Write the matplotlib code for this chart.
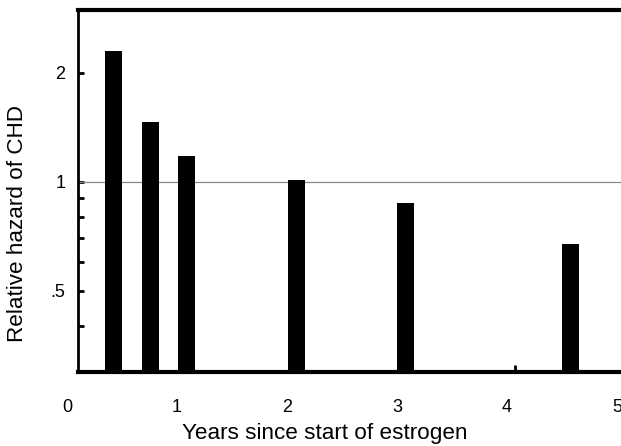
import matplotlib
matplotlib.use("Agg")
import matplotlib.pyplot as plt
import matplotlib.transforms as mtransforms
from matplotlib.ticker import FixedLocator, NullFormatter, NullLocator

plt.rcParams['font.family'] = ['Liberation Sans', 'DejaVu Sans']

# Data
years = [0.42, 0.76, 1.09, 2.085, 3.075, 4.575]
hazard = [2.29, 1.46, 1.18, 1.01, 0.873, 0.671]
x_ticks = [0, 1, 2, 3, 4, 5]
x_labels = ["0", "1", "2", "3", "4", "5"]
y_ticks = [0.5, 1, 2]
y_labels = [".5", "1", "2"]
y_minor = [0.4, 0.6, 0.7, 0.8, 0.9]

fig = plt.figure(figsize=(6.21, 4.46), dpi=100)
ax = fig.add_axes([78/621, 1-372/446, 1-78/621, (372-10)/446])

ax.set_yscale('log')
ax.bar(years, hazard, width=0.155, color='black', bottom=0, zorder=3)
ax.axhline(1, color='#8a8a8a', lw=0.9, zorder=2)

ax.yaxis.set_major_locator(FixedLocator(y_ticks))
ax.set_yticklabels(y_labels)
ax.yaxis.set_minor_locator(FixedLocator(y_minor))
ax.yaxis.set_minor_formatter(NullFormatter())
ax.tick_params(axis='y', which='both', direction='in', length=4, width=2,
               labelsize=13, pad=9)

# x: no major tick marks; labels drawn as text (the "0" sits left of the axis)
ax.xaxis.set_major_locator(NullLocator())
ax.xaxis.set_minor_locator(FixedLocator([4.07]))
ax.tick_params(axis='x', which='minor', direction='in', length=5, width=2)

ax.set_xlim(0.1, 5.036)
ax.set_ylim(0.298, 2.98)

trans = mtransforms.blended_transform_factory(ax.transData, fig.transFigure)
for xv, lab in zip(x_ticks, x_labels):
    ax.text(xv, 1-407/446, lab, transform=trans, ha='center', va='center',
            fontsize=13, clip_on=False)

ax.spines['left'].set_linewidth(2)
ax.spines['top'].set_linewidth(3)
ax.spines['bottom'].set_linewidth(3)
ax.spines['right'].set_visible(False)

fig.text(18/621, 1-224/446, "Relative hazard of CHD", fontsize=16.2,
         rotation=90, ha='center', va='center')
fig.text(325/621, 1-433/446, "Years since start of estrogen", fontsize=16.2,
         ha='center', va='center')

fig.savefig("out.png", dpi=100)
